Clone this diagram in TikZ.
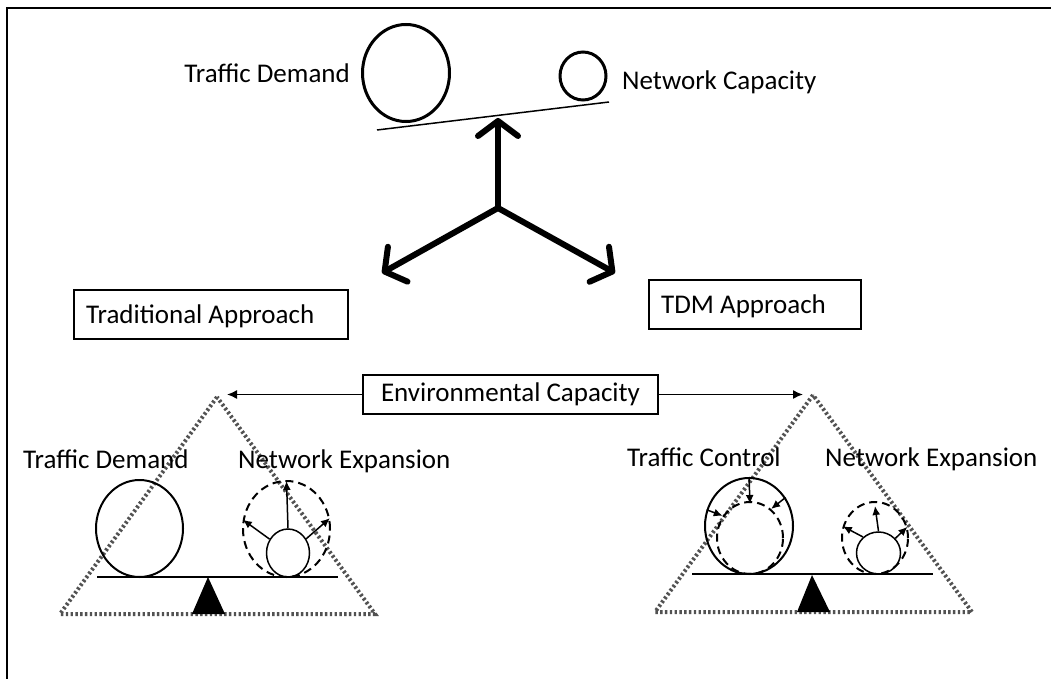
\documentclass[tikz,border=0pt]{standalone}
\usepackage{fontspec}
\setmainfont{Carlito}
\usetikzlibrary{arrows.meta,shapes.geometric}
\begin{document}
\begin{tikzpicture}[x=1pt,y=-1pt,
  lbl/.style={font=\fontsize{27}{32}\selectfont, inner sep=0pt},
  boxnode/.style={draw, line width=1.5pt, font=\fontsize{27}{32}\selectfont, minimum height=49pt, inner sep=0pt},
  bigarrow/.style={line width=6pt, line cap=round, -{Straight Barb[length=15pt,width=40pt,line cap=round,line join=round]}},
  ell/.style={draw, ellipse, inner sep=0pt},
  dotsline/.style={draw=black!68, line width=4pt, dash pattern=on 2.4pt off 2.4pt},
  smallarr/.style={line width=1.5pt, -{Latex[length=9pt,width=8pt]}},
  envarr/.style={line width=1.5pt, -{Latex[length=10pt,width=9pt]}}
]
\useasboundingbox (0,0) rectangle (1051,679);
% frame
\draw[line width=2pt] (7,679) -- (7,8) -- (1051,8);

% top balance
\node[ell, line width=3pt, minimum width=87pt, minimum height=97pt] (td) at (406,73) {};
\node[ell, line width=3pt, minimum width=46pt, minimum height=48pt] (nc) at (583,76) {};
\coordinate (tl) at (377,130);
\coordinate (tr) at (609,102);
\draw[line width=1.5pt] (tl) -- (tr);
\node[lbl, anchor=base east] (tdl) at (350,83) {Traffic Demand};
\node[lbl, anchor=base west] (ncl) at (622,90) {Network Capacity};

% three arrows
\coordinate (c) at (498,208);
\coordinate (up) at (498,118);
\coordinate (lf) at (382,273);
\coordinate (rt) at (615,273);
\draw[bigarrow] (c) -- (up);
\draw[bigarrow] (c) -- (lf);
\draw[bigarrow] (c) -- (rt);

% approach boxes
\node[boxnode, minimum width=274pt, anchor=west] (trad) at (73,314.5) {};
\node[lbl, anchor=base west] (tradt) at ([xshift=13pt,yshift=-9pt]trad.west) {Traditional Approach};
\node[boxnode, minimum width=212pt, anchor=west] (tdm) at (648,304.5) {};
\node[lbl, anchor=base west] (tdmt) at ([xshift=13pt,yshift=-9pt]tdm.west) {TDM Approach};

% environmental capacity
\node[boxnode, minimum width=295pt, minimum height=39pt] (env) at (510.5,394.5) {Environmental Capacity};

% left triangle
\coordinate (la) at (217,397);
\coordinate (lb1) at (60,614);
\coordinate (lb2) at (375,614);
\draw[dotsline] (la) -- (lb1) -- (lb2) -- cycle;
\draw[envarr] (env.west) -- (227,394.5);

% right triangle
\coordinate (ra) at (813,395);
\coordinate (rb1) at (655,612);
\coordinate (rb2) at (972,612);
\draw[dotsline] (ra) -- (rb1) -- (rb2) -- cycle;
\draw[envarr] (env.east) -- (803,394.5);

% left scale
\coordinate (lbl1) at (97,577);
\coordinate (lbl2) at (338,577);
\draw[line width=1.5pt] (lbl1) -- (lbl2);
\fill (208,577) -- (192,614) -- (225,614) -- cycle;
\node[ell, line width=2pt, minimum width=87pt, minimum height=97pt] (ltd) at (139.5,528.5) {};
\node[ell, line width=2pt, dash pattern=on 8pt off 5pt, minimum width=87pt, minimum height=96pt] (lne) at (286.5,529) {};
\node[ell, line width=1.5pt, minimum width=43pt, minimum height=48pt] (lsc) at (288,553) {};
\draw[smallarr] (lsc.north) -- ([yshift=-1pt]lne.north);
\draw[smallarr] (lsc.143) -- (lne.168);
\draw[smallarr] (lsc.38) -- (lne.14);
\node[lbl, anchor=base west] (ltdl) at (23,468) {Traffic Demand};
\node[lbl, anchor=base west] (lnel) at (238,468) {Network Expansion};

% right scale
\coordinate (rbl1) at (692,574);
\coordinate (rbl2) at (933,574);
\draw[line width=1.5pt] (rbl1) -- (rbl2);
\fill (812,575) -- (797,612) -- (830,612) -- cycle;
\node[ell, line width=2pt, minimum width=88pt, minimum height=96pt] (rtc) at (749,526) {};
\node[ell, line width=2pt, dash pattern=on 8pt off 5pt, minimum width=66pt, minimum height=72pt] (ric) at (750,538) {};
\draw[smallarr] (rtc.north) -- ([yshift=-3pt]ric.north);
\draw[smallarr] (rtc.159) -- (ric.141);
\draw[smallarr] (rtc.38) -- (ric.54);
\node[ell, line width=2pt, dash pattern=on 8pt off 5pt, minimum width=66pt, minimum height=72pt] (rne) at (875,538) {};
\node[ell, line width=1.5pt, minimum width=44pt, minimum height=42pt] (rsc) at (878.5,553) {};
\draw[smallarr] (rsc.north) -- ([yshift=-5pt]rne.north);
\draw[smallarr] (rsc.134) -- (rne.160);
\draw[smallarr] (rsc.41) -- (rne.19);
\node[lbl, anchor=base west] (rtcl) at (627,466) {Traffic Control};
\node[lbl, anchor=base west] (rnel) at (825,466) {Network Expansion};
\end{tikzpicture}
\end{document}
